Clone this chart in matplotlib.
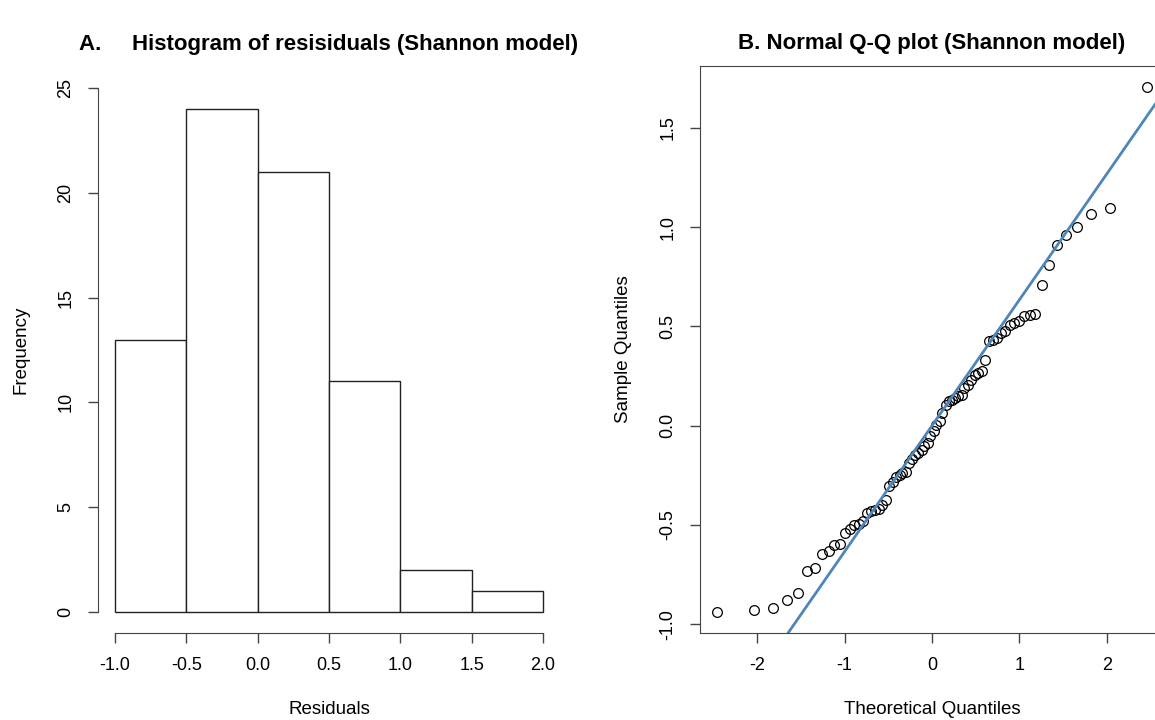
import numpy as np
import matplotlib
matplotlib.use("Agg")
import matplotlib.pyplot as plt

plt.rcParams['font.family'] = ['Liberation Sans', 'DejaVu Sans']
plt.rcParams['axes.unicode_minus'] = False

# histogram of residuals (bin edges and counts)
bin_edges = [-1.0, -0.5, 0.0, 0.5, 1.0, 1.5, 2.0]
counts = [13, 24, 21, 11, 2, 1]

# normal Q-Q plot, 72 residuals (panel B)
theoretical_q = [-2.46, -2.04, -1.82, -1.66, -1.53, -1.43, -1.34, -1.26, -1.18, -1.12,
                 -1.05, -1.00, -0.94, -0.89, -0.84, -0.79, -0.74, -0.70, -0.65, -0.61,
                 -0.57, -0.53, -0.49, -0.45, -0.41, -0.37, -0.34, -0.30, -0.26, -0.23,
                 -0.19, -0.16, -0.12, -0.09, -0.05, -0.02,
                 0.02, 0.05, 0.09, 0.12, 0.16, 0.19, 0.23, 0.26, 0.30, 0.34,
                 0.37, 0.41, 0.45, 0.49, 0.53, 0.57, 0.61, 0.65, 0.70, 0.74,
                 0.79, 0.84, 0.89, 0.94, 1.00, 1.05, 1.12, 1.18, 1.26, 1.34,
                 1.43, 1.53, 1.66, 1.82, 2.04, 2.46]
sample_q = [-0.938, -0.930, -0.918, -0.876, -0.843, -0.730, -0.717, -0.646, -0.629, -0.601,
            -0.596, -0.540, -0.520, -0.498, -0.493, -0.482, -0.440, -0.431, -0.426, -0.418,
            -0.398, -0.376, -0.305, -0.285, -0.258, -0.247, -0.238, -0.235, -0.188, -0.166,
            -0.148, -0.138, -0.122, -0.100, -0.087, -0.054,
            -0.029, 0.005, 0.022, 0.064, 0.106, 0.125, 0.131, 0.139, 0.148, 0.156,
            0.190, 0.206, 0.232, 0.257, 0.265, 0.274, 0.332, 0.425, 0.433, 0.441,
            0.467, 0.475, 0.509, 0.517, 0.525, 0.554, 0.559, 0.564, 0.707, 0.811,
            0.908, 0.958, 0.999, 1.066, 1.098, 1.705]

fig = plt.figure(figsize=(11.55, 7.2), dpi=100)

def r_style(ax):
    ax.tick_params(direction='out', length=7, width=1, pad=10, labelsize=13, color='#444444')
    for lab in ax.get_yticklabels():
        lab.set_rotation(90)
        lab.set_va('center')

# ---- A. histogram
ax1 = fig.add_axes([98/1155, 87/720, 462/1155, 566/720])
widths = np.diff(bin_edges)
ax1.bar(bin_edges[:-1], counts, width=widths, align='edge', color='white',
        edgecolor='#222222', linewidth=1)
ax1.set_xlim(-1.12, 2.12)
ax1.set_ylim(-1.0, 26.0)
ax1.set_xticks([-1.0, -0.5, 0.0, 0.5, 1.0, 1.5, 2.0])
ax1.set_xticklabels(['-1.0', '-0.5', '0.0', '0.5', '1.0', '1.5', '2.0'])
ax1.set_yticks([0, 5, 10, 15, 20, 25])
ax1.spines['top'].set_visible(False)
ax1.spines['right'].set_visible(False)
ax1.spines['left'].set_bounds(0, 25)
ax1.spines['bottom'].set_bounds(-1, 2)
for s in ('left', 'bottom'):
    ax1.spines[s].set_color('#444444')
r_style(ax1)
ax1.set_xlabel('Residuals', fontsize=13.5, labelpad=20)
ax1.set_ylabel('Frequency', fontsize=13.5, labelpad=20)
ax1.set_title('A.     Histogram of resisiduals (Shannon model)', fontsize=16,
              fontweight='bold', pad=12)

# ---- B. Q-Q plot
ax2 = fig.add_axes([700/1155, 87/720, 464/1155, 567/720])
ax2.plot(theoretical_q, sample_q, 'o', mfc='none', mec='black', ms=7, mew=0.9)
ax2.margins(0.04)
# qqline through the quartiles, as R does
y25, y75 = np.quantile(sample_q, [0.25, 0.75])
z25, z75 = -0.6745, 0.6745
slope = (y75 - y25) / (z75 - z25)
intercept = y25 - slope * z25
ax2.axline((0, intercept), slope=slope, color='#4f86b8', lw=2)
ax2.set_xticks([-2, -1, 0, 1, 2])
ax2.set_yticks([-1.0, -0.5, 0.0, 0.5, 1.0, 1.5])
ax2.set_yticklabels(['-1.0', '-0.5', '0.0', '0.5', '1.0', '1.5'])
for s in ax2.spines.values():
    s.set_color('#444444')
r_style(ax2)
ax2.set_xlabel('Theoretical Quantiles', fontsize=13.5, labelpad=20)
ax2.set_ylabel('Sample Quantiles', fontsize=13.5, labelpad=20)
ax2.set_title('B. Normal Q-Q plot (Shannon model)', fontsize=16,
              fontweight='bold', pad=12)

fig.savefig('out.png', dpi=100)
